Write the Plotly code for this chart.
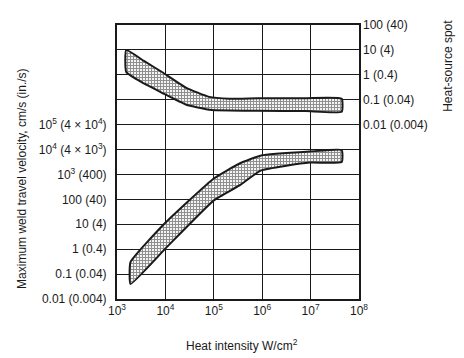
import plotly.graph_objects as go

# ---- data ----
# Heat-source spot diameter band (right axis, cm)
spot_intensity = [1.55e3, 3.6e3, 8.5e3, 2.7e4, 8e4, 2.1e5, 8e5, 8e6, 4.4e7]
spot_upper = [10, 3.6, 1.3, 0.3, 0.13, 0.11, 0.115, 0.115, 0.11]
spot_lower = [1.3, 0.45, 0.19, 0.063, 0.04, 0.037, 0.036, 0.035, 0.033]

# Maximum weld travel velocity band (left axis, cm/s)
vel_intensity = [1.9e3, 1.02e4, 1e5, 3.4e5, 9.5e5, 9.5e6, 4.4e7]
vel_upper = [0.3, 12, 690, 2750, 5750, 8300, 9500]
vel_lower = [0.04, 1.1, 91, 363, 1450, 3000, 3160]

x_tickvals = [1e3, 1e4, 1e5, 1e6, 1e7, 1e8]
x_ticktext = ["10<sup>3</sup>", "10<sup>4</sup>", "10<sup>5</sup>", "10<sup>6</sup>",
              "10<sup>7</sup>", "10<sup>8</sup>"]

left_tickvals = [1e-2, 1e-1, 1, 10, 100, 1e3, 1e4, 1e5, 1e6, 1e7, 1e8, 1e9]
left_ticktext = ["0.01 (0.004)", "0.1 (0.04)", "1 (0.4)", "10 (4)", "100 (40)",
                 "10<sup>3</sup> (400)", "10<sup>4</sup> (4 × 10<sup>3</sup>)",
                 "10<sup>5</sup> (4 × 10<sup>4</sup>)", "", "", "", ""]

right_tickvals = [1e-2, 1e-1, 1, 10, 100]
right_ticktext = ["0.01 (0.004)", "0.1 (0.04)", "1 (0.4)", "10 (4)", "100 (40)"]

FONT = "Liberation Sans, Arial, sans-serif"
INK = "#1a1a1a"

fig = go.Figure()

pattern = dict(shape="+", size=3, solidity=0.55, fgcolor="#2a2a2a", bgcolor="#f4f4f4")


def band(xs, up, lo, axis):
    # upper edge left->right, right end, lower edge right->left, left end
    fig.add_trace(go.Scatter(
        x=xs + xs[::-1] + [xs[0]],
        y=up + lo[::-1] + [up[0]],
        mode="lines", fill="toself", fillpattern=pattern,
        line=dict(color=INK, width=2), yaxis=axis, showlegend=False, hoverinfo="skip"))


band(vel_intensity, vel_upper, vel_lower, "y")
band(spot_intensity, spot_upper, spot_lower, "y2")

# page body has an 8px margin, so the figure is sized to the visible window
fig.update_layout(
    width=456, height=350,
    margin=dict(l=109, r=105, t=17, b=59, autoexpand=False),
    paper_bgcolor="white", plot_bgcolor="white",
    font=dict(family=FONT, size=12, color=INK),
    xaxis=dict(type="log", range=[3, 8], tickvals=x_tickvals, ticktext=x_ticktext,
               showgrid=True, gridcolor=INK, gridwidth=1.2, automargin=False,
               showline=True, linecolor=INK, linewidth=2, mirror=True,
               ticks="", zeroline=False),
    yaxis=dict(type="log", range=[-2, 9], tickvals=left_tickvals, ticktext=left_ticktext,
               showgrid=True, gridcolor=INK, gridwidth=1.2, automargin=False,
               showline=True, linecolor=INK, linewidth=2, mirror=True,
               ticks="", ticklabelstandoff=6, zeroline=False),
    yaxis2=dict(type="log", range=[-9, 2], overlaying="y", side="right",
                tickvals=right_tickvals, ticktext=right_ticktext, automargin=False,
                showgrid=False, showline=False, ticks="", ticklabelstandoff=3,
                zeroline=False),
    annotations=[
        dict(text="Maximum weld travel velocity, cm/s (in./s)", xref="paper", yref="paper",
             x=-0.393, y=0.438, xanchor="center", yanchor="middle", textangle=-90,
             showarrow=False, font=dict(size=12)),
        dict(text="Heat-source spot<br>diameter (<i>d</i><sub>s</sub>), cm (in.)",
             xref="paper", yref="paper", x=1.40, y=0.85, xanchor="center",
             yanchor="middle", textangle=-90, showarrow=False, font=dict(size=12)),
        dict(text="Heat intensity W/cm<sup>2</sup>", xref="paper", yref="paper",
             x=0.516, y=-0.168, xanchor="center", yanchor="middle",
             showarrow=False, font=dict(size=12)),
    ],
)

fig.update_traces(line_shape="spline", line_smoothing=0.4)

fig.write_html("out.html")
